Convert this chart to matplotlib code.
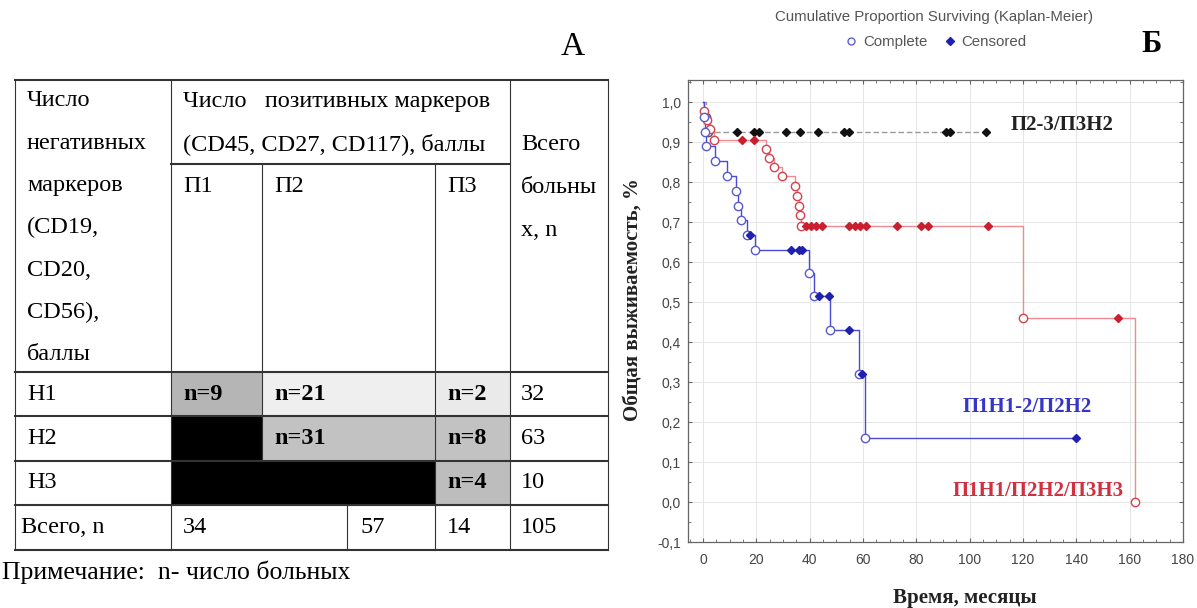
import matplotlib
matplotlib.use("Agg")
import matplotlib.pyplot as plt
from matplotlib.patches import Rectangle
from matplotlib.lines import Line2D
from matplotlib.ticker import MultipleLocator, FuncFormatter
import numpy as np

# ---------------- данные: таблица (панель А) ----------------
neg_header = ['Число', 'негативных', 'маркеров', '(CD19,', 'CD20,', 'CD56),', 'баллы']
pos_header = ['Число   позитивных маркеров', '(CD45, CD27, CD117), баллы']
pos_groups = ['П1', 'П2', 'П3']
total_header = ['Всего', 'больны', 'х, n']
row_labels = ['Н1', 'Н2', 'Н3']
cell_text = [['n=9', 'n=21', 'n=2'],
             ['', 'n=31', 'n=8'],
             ['', '', 'n=4']]
row_totals = ['32', '63', '10']
total_label = 'Всего, n'
col_totals = ['34', '57', '14']
grand_total = '105'
note = 'Примечание:  n- число больных'

# ---------------- данные: кривые Каплана-Мейера (панель Б) ----------------
# П1Н1-2/П2Н2
blue_t = [0.3, 0.8, 1.2, 4.5, 9.0, 12.4, 13.0, 14.2, 16.7, 19.5, 39.8, 41.7, 47.6, 58.5, 60.6]
blue_s = [0.963, 0.926, 0.889, 0.852, 0.815, 0.778, 0.741, 0.704, 0.667, 0.630,
          0.572, 0.515, 0.430, 0.320, 0.159]
blue_cens = [17.8, 33.0, 36.0, 37.3, 43.6, 47.4, 54.8, 59.7, 140.0]
blue_end = 140.0

# П1Н1/П2Н2/П3Н3
red_t = [0.5, 1.5, 2.5, 4.0, 23.8, 24.8, 26.7, 29.5, 34.6, 35.2, 36.0, 36.4, 36.7, 120.0, 162.0]
red_s = [0.977, 0.955, 0.932, 0.905, 0.882, 0.861, 0.837, 0.815, 0.789, 0.765,
         0.741, 0.718, 0.690, 0.460, 0.0]
red_cens = [14.8, 19.2, 38.8, 40.5, 42.5, 44.5, 54.8, 57.0, 58.8, 61.0, 72.6,
            81.6, 84.4, 107.0, 155.7]
red_end = 162.0

# П2-3/П3Н2
black_t = [1.0, 2.0]
black_s = [0.962, 0.925]
black_cens = [12.7, 19.1, 21.0, 31.0, 36.3, 43.0, 52.8, 54.6, 91.0, 92.8, 106.0]
black_end = 106.0

x_ticks = np.arange(0, 181, 20)
y_ticks = np.round(np.arange(-0.1, 1.01, 0.1), 1)

W, H = 1197, 608
fig = plt.figure(figsize=(W / 100, H / 100), dpi=100)
serif = ['Liberation Serif', 'DejaVu Serif']
sans = ['Liberation Sans', 'DejaVu Sans']

# ---------------- таблица ----------------
tab = fig.add_axes([0, 0, 1, 1])
tab.set_xlim(0, W)
tab.set_ylim(H, 0)
tab.axis('off')

xs = [15, 171, 262, 435, 510, 608]
y_top, y_sub = 80, 164
y_rows = [372, 416, 461, 505, 550]
shade = [['#b5b5b5', '#efefef', '#eaeaea'],
         ['black', '#c2c2c2', '#c2c2c2'],
         ['black', 'black', '#bdbdbd']]
fs = 17.5

for i in range(3):
    for j in range(3):
        tab.add_patch(Rectangle((xs[j + 1], y_rows[i]), xs[j + 2] - xs[j + 1],
                                y_rows[i + 1] - y_rows[i], color=shade[i][j], lw=0))

lc = '#333333'
tab.plot([xs[0], xs[-1]], [y_top, y_top], color=lc, lw=1.5)
tab.plot([xs[1], xs[4]], [y_sub, y_sub], color=lc, lw=1.5)
for y in y_rows:
    tab.plot([xs[0], xs[-1]], [y, y], color=lc, lw=1.5)
for x in [xs[0], xs[1], xs[4], xs[5]]:
    tab.plot([x, x], [y_top, y_rows[-1]], color=lc, lw=0.8)
tab.plot([xs[2], xs[2]], [y_sub, y_rows[2]], color=lc, lw=0.8)
tab.plot([xs[3], xs[3]], [y_sub, y_rows[-1]], color=lc, lw=0.8)
tab.plot([347, 347], [y_rows[3], y_rows[4]], color=lc, lw=0.8)

for k, s in enumerate(neg_header):
    tab.text(xs[0] + 12, 101 + 42.3 * k, s, family=serif, fontsize=fs, va='center')
for k, s in enumerate(pos_header):
    tab.text(xs[1] + 12, 101 + 43 * k, s, family=serif, fontsize=fs, va='center')
for j, s in enumerate(pos_groups):
    tab.text(xs[j + 1] + 12, 187, s, family=serif, fontsize=fs, va='center')
for k, s in enumerate(total_header):
    tab.text(xs[4] + 11, 145 + 42.5 * k, s, family=serif, fontsize=fs, va='center')

for i in range(3):
    yc = (y_rows[i] + y_rows[i + 1]) / 2
    tab.text(xs[0] + 12, yc, row_labels[i], family=serif, fontsize=fs, va='center')
    for j in range(3):
        if cell_text[i][j]:
            tab.text(xs[j + 1] + 12, yc, cell_text[i][j], family=serif, fontsize=fs,
                     fontweight='bold', va='center')
    tab.text(xs[4] + 11, yc, row_totals[i], family=serif, fontsize=fs, va='center')

yc = (y_rows[3] + y_rows[4]) / 2
tab.text(xs[0] + 6, yc, total_label, family=serif, fontsize=fs, va='center')
for x, s in zip([xs[1] + 12, 360, xs[3] + 12], col_totals):
    tab.text(x, yc, s, family=serif, fontsize=fs, va='center')
tab.text(xs[4] + 11, yc, grand_total, family=serif, fontsize=fs, va='center')
tab.text(2, 572, note, family=serif, fontsize=18.5, va='center')
tab.text(573, 47, 'A', family=serif, fontsize=24, ha='center', va='center')
tab.text(1152, 44, 'Б', family=serif, fontsize=22, fontweight='bold', ha='center', va='center')

# ---------------- график ----------------
ax = fig.add_axes([688 / W, 1 - 542 / H, 495 / W, 462 / H])
ax.set_xlim(-5.6, 180)
ax.set_ylim(-0.1, 1.055)


def km_curve(ev_t, ev_s, end_t):
    xx = [0.0] + list(ev_t)
    yy = [1.0] + list(ev_s)
    if end_t > xx[-1]:
        xx.append(end_t)
        yy.append(yy[-1])
    return xx, yy


def level_at(t, ev_t, ev_s):
    i = np.searchsorted(ev_t, t, side='right')
    lev = np.asarray(ev_s)[np.maximum(i - 1, 0)]
    return np.where(i == 0, 1.0, lev)


groups = [
    (black_t, black_s, black_cens, black_end, '#9a9a9a', '#555555', '#111111', (0, (4, 2))),
    (red_t, red_s, red_cens, red_end, '#ee8a90', '#d8404c', '#c8202e', '-'),
    (blue_t, blue_s, blue_cens, blue_end, '#4b4bd2', '#5a5ad0', '#2020b0', '-'),
]
for ev_t, ev_s, cens, end_t, lcol, ccol, dcol, ls in groups:
    xx, yy = km_curve(ev_t, ev_s, end_t)
    ax.plot(xx, yy, drawstyle='steps-post', color=lcol, lw=1.0, ls=ls, zorder=2)
    ax.plot(ev_t, ev_s, 'o', ms=6, mfc='white', mec=ccol, mew=1.0, zorder=3)
    ax.plot(cens, level_at(cens, ev_t, ev_s), 'D', ms=4, color=dcol, zorder=4)

ax.xaxis.set_minor_locator(MultipleLocator(5))
ax.yaxis.set_minor_locator(MultipleLocator(0.05))
ax.set_xticks(x_ticks)
ax.set_yticks(y_ticks)
ax.yaxis.set_major_formatter(FuncFormatter(lambda v, p: f'{v:.1f}'.replace('.', ',')))
ax.tick_params(which='both', direction='in', top=True, right=True, color='#666666')
ax.tick_params(which='major', length=3, labelsize=10, labelcolor='#444444')
ax.tick_params(which='minor', length=2)
ax.tick_params(axis='x', pad=8)
ax.tick_params(axis='y', pad=5)
for lab in ax.get_xticklabels() + ax.get_yticklabels():
    lab.set_family(sans)
for sp in ax.spines.values():
    sp.set_color('#666666')
    sp.set_linewidth(0.9)
ax.grid(True, color='#e6e6e6', lw=0.7)
ax.set_axisbelow(True)

ax.text(115.3, 0.9425, 'П2-3/П3Н2', family=serif, fontsize=15, fontweight='bold',
        color='#222222', va='center')
ax.text(97.2, 0.238, 'П1Н1-2/П2Н2', family=serif, fontsize=15, fontweight='bold',
        color='#3535c8', va='center')
ax.text(93.5, 0.028, 'П1Н1/П2Н2/П3Н3', family=serif, fontsize=15, fontweight='bold',
        color='#d03040', va='center')

fig.text(633 / W, 1 - 300 / H, 'Общая выживаемость, %', family=serif, fontsize=15,
         fontweight='bold', rotation=90, ha='center', va='center', color='#222222')
fig.text(965 / W, 1 - 598 / H, 'Время, месяцы', family=serif, fontsize=15,
         fontweight='bold', ha='center', va='center', color='#222222')
fig.text(934 / W, 1 - 17 / H, 'Cumulative Proportion Surviving (Kaplan-Meier)',
         family=sans, fontsize=10.8, ha='center', va='center', color='#555555')
handles = [Line2D([], [], ls='none', marker='o', ms=5, mfc='white', mec='#6060cc', mew=1.0),
           Line2D([], [], ls='none', marker='D', ms=4, color='#2020b0')]
fig.legend(handles, ['Complete', 'Censored'], loc='center', bbox_to_anchor=(935 / W, 1 - 42 / H),
           ncol=2, frameon=False, handletextpad=0.3, columnspacing=1.0, handlelength=1.0,
           prop={'family': sans, 'size': 10.8}, labelcolor='#555555')

fig.savefig('out.png', dpi=100)
